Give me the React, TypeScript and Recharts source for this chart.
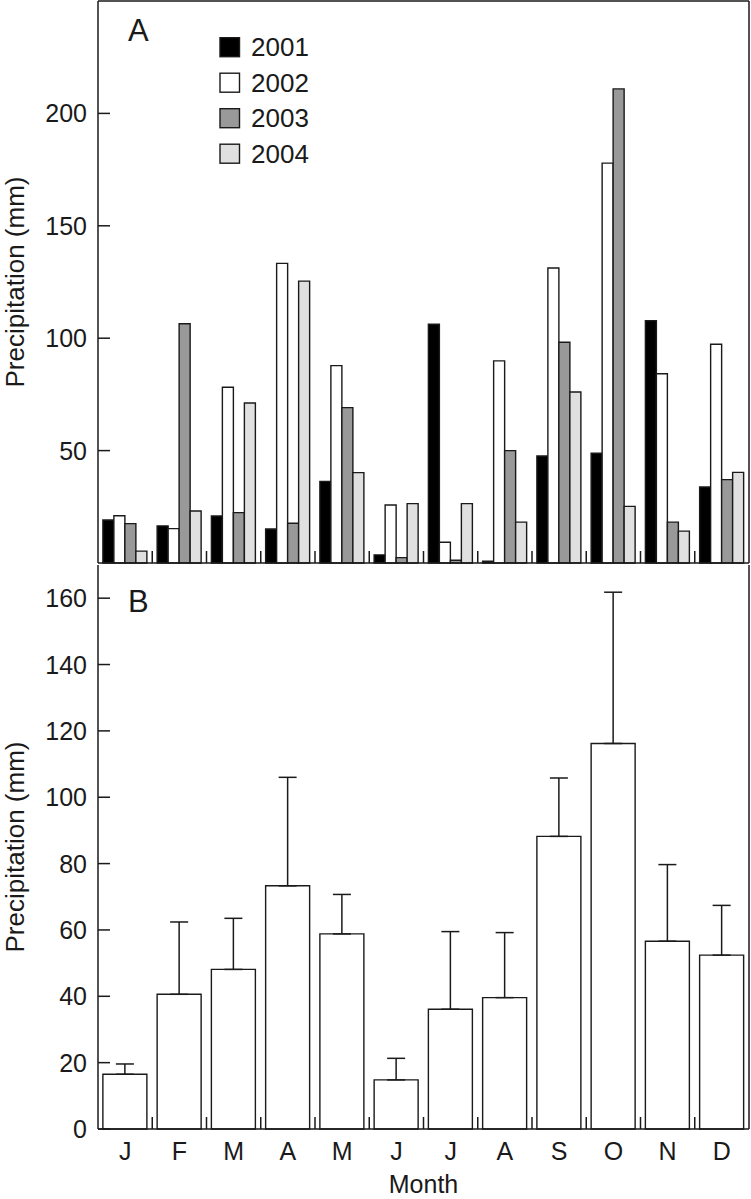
import { BarChart, Bar, XAxis, YAxis, Legend, ErrorBar, ReferenceLine } from "recharts";

// monthly precipitation (mm)
const monthKeys = ["Jan", "Feb", "Mar", "Apr", "May", "Jun", "Jul", "Aug", "Sep", "Oct", "Nov", "Dec"];
const monthLetters = ["J", "F", "M", "A", "M", "J", "J", "A", "S", "O", "N", "D"];
const years = ["2001", "2002", "2003", "2004"];

const rain2001 = [19.1, 16.5, 20.9, 15.1, 36.3, 3.6, 106.2, 0.8, 47.6, 48.8, 107.8, 33.8];
const rain2002 = [21.0, 15.3, 78.2, 133.3, 87.8, 25.8, 9.2, 89.9, 131.2, 177.9, 84.2, 97.3];
const rain2003 = [17.5, 106.4, 22.4, 17.7, 69.1, 2.4, 1.2, 50.0, 98.2, 210.9, 18.2, 37.1];
const rain2004 = [5.3, 23.1, 71.2, 125.4, 40.2, 26.4, 26.4, 18.2, 76.1, 25.2, 14.2, 40.3];

// panel B: mean and SD across the four years
const meanRain = [16.5, 40.6, 48.1, 73.3, 58.8, 14.8, 36.1, 39.6, 88.2, 116.2, 56.6, 52.4];
const sdRain = [3.1, 21.8, 15.4, 32.7, 11.9, 6.5, 23.4, 19.6, 17.6, 45.6, 23.1, 15.0];

const ticksA = [50, 100, 150, 200];
const ticksB = [0, 20, 40, 60, 80, 100, 120, 140, 160];

const yearSeries = [rain2001, rain2002, rain2003, rain2004];
const yearFills = ["#000000", "#ffffff", "#999999", "#e0e0e0"];

const dataA = monthKeys.map((m, i) => {
  const row: Record<string, string | number> = { month: m };
  years.forEach((yr, k) => {
    row["y" + yr] = yearSeries[k][i];
  });
  return row;
});

const dataB = monthKeys.map((m, i) => ({
  month: m,
  mean: meanRain[i],
  sd: [0, sdRain[i]],
}));

const INK = "#1a1a1a";
const FONT = "'Liberation Sans', Arial, Helvetica, sans-serif";
const W = 751;
const PLOT_L = 98;
const PLOT_R = 749;
const BAND = (PLOT_R - PLOT_L) / 12;
const TICK_LEN = 12;

function leftTick(showLabel: boolean) {
  return (p: any) => (
    <g>
      <line x1={p.x} x2={p.x + TICK_LEN} y1={p.y} y2={p.y} stroke={INK} strokeWidth={1.5} />
      {showLabel && (
        <text x={p.x - 11} y={p.y} dy="0.36em" textAnchor="end" fontSize={25} fill={INK}>
          {p.payload.value}
        </text>
      )}
    </g>
  );
}

const rightTick = (p: any) => (
  <line x1={p.x - TICK_LEN} x2={p.x} y1={p.y} y2={p.y} stroke={INK} strokeWidth={1.5} />
);

function monthTick(showLabel: boolean) {
  return (p: any) => (
    <g>
      {p.index < 11 && (
        <line
          x1={p.x + BAND / 2}
          x2={p.x + BAND / 2}
          y1={p.y}
          y2={p.y - TICK_LEN}
          stroke={INK}
          strokeWidth={1.5}
        />
      )}
      {showLabel && (
        <text x={p.x} y={p.y + 31} textAnchor="middle" fontSize={25} fill={INK}>
          {monthLetters[p.index]}
        </text>
      )}
    </g>
  );
}

const yLabel = (props: any) => {
  const vb = props.viewBox;
  const cy = vb.y + vb.height / 2;
  return (
    <text x={24} y={cy} transform={`rotate(-90 24 ${cy})`} textAnchor="middle" fontSize={26} fill={INK}>
      Precipitation (mm)
    </text>
  );
};

function YearLegend(props: any) {
  const items = props.payload ?? [];
  return (
    <svg width={150} height={150} style={{ display: "block" }}>
      {items.map((e: any, i: number) => (
        <g key={e.value}>
          <rect
            x={10}
            y={7.7 + i * 35.5}
            width={19.5}
            height={19}
            fill={e.color ?? e.payload?.fill}
            stroke={INK}
            strokeWidth={1.4}
          />
          <text x={41} y={26 + i * 35.5} fontSize={26} fill={INK} fontFamily={FONT}>
            {e.value}
          </text>
        </g>
      ))}
    </svg>
  );
}

export default function App() {
  return (
    <div style={{ position: "absolute", left: 0, top: 0, width: W, height: 1199, fontFamily: FONT, background: "#fff" }}>
      <BarChart
        width={W}
        height={564}
        data={dataA}
        margin={{ top: 1, right: 1, bottom: 0, left: 0 }}
        barCategoryGap="9%"
        barGap={0}
      >
        <XAxis
          dataKey="month"
          height={1}
          interval={0}
          tickSize={0}
          tickMargin={0}
          tickLine={false}
          axisLine={{ stroke: INK, strokeWidth: 1.5 }}
          tick={monthTick(false)}
        />
        <YAxis
          width={98}
          domain={[0, 250]}
          ticks={ticksA}
          interval={0}
          tickSize={0}
          tickMargin={0}
          tickLine={false}
          axisLine={{ stroke: INK, strokeWidth: 1.5 }}
          tick={leftTick(true)}
          label={yLabel}
        />
        <YAxis
          yAxisId="right"
          orientation="right"
          width={1}
          domain={[0, 250]}
          ticks={ticksA}
          interval={0}
          tickSize={0}
          tickMargin={0}
          tickLine={false}
          axisLine={{ stroke: INK, strokeWidth: 1.5 }}
          tick={rightTick}
        />
        <ReferenceLine y={250} stroke={INK} strokeWidth={1.5} />
        {years.map((yr, k) => (
          <Bar
            key={yr}
            dataKey={"y" + yr}
            name={yr}
            fill={yearFills[k]}
            stroke={INK}
            strokeWidth={1.4}
            isAnimationActive={false}
          />
        ))}
        <Legend
          layout="vertical"
          align="center"
          verticalAlign="middle"
          wrapperStyle={{ left: 210, top: 30, width: 150, height: 150 }}
          content={YearLegend}
        />
      </BarChart>
      <BarChart
        width={W}
        height={636}
        data={dataB}
        margin={{ top: 1, right: 1, bottom: 0, left: 0 }}
        barCategoryGap="9%"
      >
        <XAxis
          dataKey="month"
          height={71}
          interval={0}
          tickSize={0}
          tickMargin={0}
          tickLine={false}
          axisLine={{ stroke: INK, strokeWidth: 1.5 }}
          tick={monthTick(true)}
          label={{ value: "Month", position: "insideBottom", offset: 7, fontSize: 25, fill: INK }}
        />
        <YAxis
          width={98}
          domain={[0, 170]}
          ticks={ticksB}
          interval={0}
          tickSize={0}
          tickMargin={0}
          tickLine={false}
          axisLine={{ stroke: INK, strokeWidth: 1.5 }}
          tick={leftTick(true)}
          label={yLabel}
        />
        <YAxis
          yAxisId="right"
          orientation="right"
          width={1}
          domain={[0, 170]}
          ticks={ticksB}
          interval={0}
          tickSize={0}
          tickMargin={0}
          tickLine={false}
          axisLine={{ stroke: INK, strokeWidth: 1.5 }}
          tick={rightTick}
        />
        <Bar dataKey="mean" fill="#ffffff" stroke={INK} strokeWidth={1.4} isAnimationActive={false}>
          <ErrorBar dataKey="sd" width={9} stroke={INK} strokeWidth={1.5} direction="y" />
        </Bar>
      </BarChart>
      <svg
        width={W}
        height={1199}
        style={{ position: "absolute", left: 0, top: 0, pointerEvents: "none" }}
      >
        <text x={128} y={41} fontSize={31} fill={INK} fontFamily={FONT}>A</text>
        <text x={128} y={612} fontSize={31} fill={INK} fontFamily={FONT}>B</text>
      </svg>
    </div>
  );
}
